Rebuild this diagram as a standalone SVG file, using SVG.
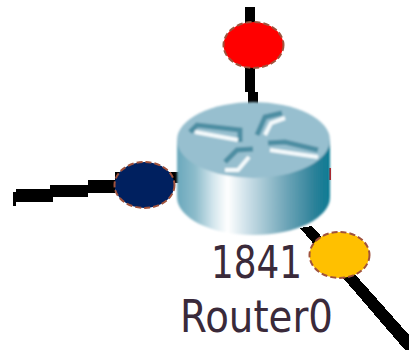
<svg xmlns="http://www.w3.org/2000/svg" width="409" height="353" viewBox="0 0 409 353">
<style>
.port{stroke:#a0523c;stroke-width:2;stroke-dasharray:6 3}
.wire{fill:#000;stroke:none;shape-rendering:crispEdges}
.dk{fill:none;stroke:#4d8ea3;stroke-width:5}
.wh{fill:none;stroke:#f4fafc;stroke-width:4}
.lbl{font-family:"DejaVu Sans",sans-serif;font-size:45px;fill:#3a2a3a}
</style>
<defs>
<linearGradient id="body" x1="0" x2="1" y1="0" y2="0">
<stop offset="0" stop-color="#6aa8bc"/>
<stop offset="0.12" stop-color="#8dbccb"/>
<stop offset="0.24" stop-color="#d5e7ee"/>
<stop offset="0.33" stop-color="#ffffff"/>
<stop offset="0.45" stop-color="#d0e2ea"/>
<stop offset="0.7" stop-color="#73a8ba"/>
<stop offset="0.9" stop-color="#2c8199"/>
<stop offset="1" stop-color="#0b7a93"/>
</linearGradient>
<filter id="soft" x="-5%" y="-5%" width="110%" height="110%"><feGaussianBlur stdDeviation="1"/></filter>
</defs>
<rect width="409" height="353" fill="#fff"/>
<g id="connectors">
<path class="wire" d="M245 7H255V92H258V106H248V92H245Z"/>
<path class="wire" d="M13 206V192H16V189H50V185H88V180H115V172H180V183H115V193H88V197H53V202H16V206Z"/>
<path class="wire" d="M300 228L312 226L409 335V350H405Z"/>
</g>
<g id="router0">
<rect x="329" y="168" width="2" height="12" fill="#f00"/>
<g filter="url(#soft)">
<path d="M177 140V197C177 218 211 235 253.500 235C296 235 330 218 330 197V140Z" fill="url(#body)"/>
<ellipse cx="253.500" cy="140" rx="76.500" ry="38" fill="#97bfcf"/>
<path class="dk" d="M190 132L197 125L240 130V142"/>
<path class="wh" d="M195 132L238 140"/>
<path class="dk" d="M257 135L265 117L282 113"/>
<path class="wh" d="M265 135L271 123L285 118"/>
<path class="dk" d="M268 143L285 142L318 150"/>
<path class="wh" d="M270 150L318 157"/>
<path class="dk" d="M225 162L237 150L253 149"/>
<path class="wh" d="M225 170H238L249 157"/>
</g>
<text class="lbl" x="211" y="278" textLength="91" lengthAdjust="spacingAndGlyphs">1841</text>
<text class="lbl" x="180" y="332" textLength="153" lengthAdjust="spacingAndGlyphs">Router0</text>
</g>
<g id="port-top"><ellipse class="port" cx="253.500" cy="45" rx="30" ry="23" fill="#f00"/></g>
<g id="port-left"><ellipse class="port" cx="144.500" cy="185" rx="30" ry="23" fill="#00205f"/></g>
<g id="port-right"><ellipse class="port" cx="339.500" cy="255" rx="30" ry="23" fill="#ffc000"/></g>
</svg>
